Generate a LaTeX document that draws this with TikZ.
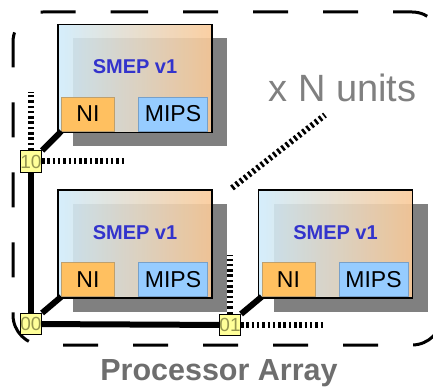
\documentclass[tikz,border=0pt]{standalone}
\usepackage{fontspec}
\setmainfont{Liberation Sans}
\usepackage{xcolor}
\usetikzlibrary{positioning, shadows, calc}

\definecolor{smepblue}{RGB}{208,236,252}
\definecolor{smeppeach}{RGB}{250,202,152}
\definecolor{shadowgray}{RGB}{128,128,128}
\definecolor{nifill}{RGB}{255,192,96}
\definecolor{nidraw}{RGB}{190,160,110}
\definecolor{mipsfill}{RGB}{150,204,255}
\definecolor{mipsdraw}{RGB}{120,160,200}
\definecolor{titleblue}{RGB}{51,51,204}
\definecolor{routerfill}{RGB}{255,255,153}
\definecolor{routertext}{RGB}{150,150,80}
\definecolor{labelgray}{RGB}{128,128,128}
\definecolor{arraygray}{RGB}{110,110,110}

\begin{document}
\begin{tikzpicture}[
    x=1pt, y=-1pt,
    smep/.style={rectangle, draw=black, line width=1.5pt, left color=smepblue, right color=smeppeach, fill opacity=0.9, minimum width=154pt, minimum height=108pt, inner sep=0pt, drop shadow={shadow xshift=15pt, shadow yshift=-14pt, fill=shadowgray, opacity=1}},
    title/.style={text=titleblue, font=\fontsize{20}{22}\selectfont\bfseries},
    ni/.style={rectangle, draw=nidraw, fill=nifill, thin, minimum width=53pt, minimum height=34pt, inner sep=0pt, font=\fontsize{23}{24}\selectfont},
    mips/.style={rectangle, draw=mipsdraw, fill=mipsfill, thin, minimum width=69pt, minimum height=34pt, inner sep=0pt, font=\fontsize{23}{24}\selectfont},
    router/.style={rectangle, draw=black, fill=routerfill, line width=1pt, minimum width=20pt, minimum height=21pt, inner sep=0pt, text=routertext, font=\fontsize{19}{19}\selectfont},
    link/.style={line width=6pt, draw=black},
    dotlink/.style={line width=6pt, draw=black, dash pattern=on 2.5pt off 2.8pt},
    border/.style={line width=3pt, draw=black, dash pattern=on 35pt off 35pt, rounded corners=30pt}
]
\useasboundingbox (0,0) rectangle (433,390);

% Array outline
\draw[border] (83,12) -- (442,12) -- (442,345) -- (13,345) -- (13,12) -- cycle;

% Processing units
\node[smep] (smep1) at (135,78.5) {};
\node[smep, below=56pt of smep1] (smep2) {};
\node[smep, right=45pt of smep2] (smep3) {};

\foreach \u in {1,2,3} {
    \node[title] at ([yshift=-43pt]smep\u.north) {SMEP v1};
    \node[ni, anchor=south west] (ni\u) at ([xshift=4pt, yshift=2pt]smep\u.south west) {NI};
    \node[mips, anchor=south east] (mips\u) at ([xshift=-5pt, yshift=2pt]smep\u.south east) {MIPS};
}

% Routers
\node[router] (r00) at (31,324) {00};
\node[router] (r10) at (31,161.5) {10};
\node[router] (r01) at (230,325) {01};

% Free ends of the mesh
\coordinate (up10) at (31,92);
\coordinate (east10) at (125,161.5);
\coordinate (up01) at (230,255);
\coordinate (east01) at (323,325);
\coordinate (moreA) at (232,188);
\coordinate (moreB) at (325,115);

% Mesh links
\draw[link] (r10) -- (r00);
\draw[link] (r00) -- (r01);

% Local ports
\draw[link] (r10.north east) -- (ni1.south west);
\draw[link] (r00.north east) -- (ni2.south west);
\draw[link] (r01.north east) -- (ni3.south west);

% Open links
\draw[dotlink] (r10) -- (up10);
\draw[dotlink] (r10) -- (east10);
\draw[dotlink] (r01) -- (up01);
\draw[dotlink] (r01) -- (east01);
\draw[dotlink] (moreA) -- (moreB);

% Labels
\node[anchor=base, text=labelgray, font=\fontsize{38}{40}\selectfont] (units) at (342.5,102) {x N units};
\node[anchor=base, text=arraygray, font=\fontsize{30.5}{32}\selectfont\bfseries] (array) at (219,380) {Processor Array};

\end{tikzpicture}
\end{document}
